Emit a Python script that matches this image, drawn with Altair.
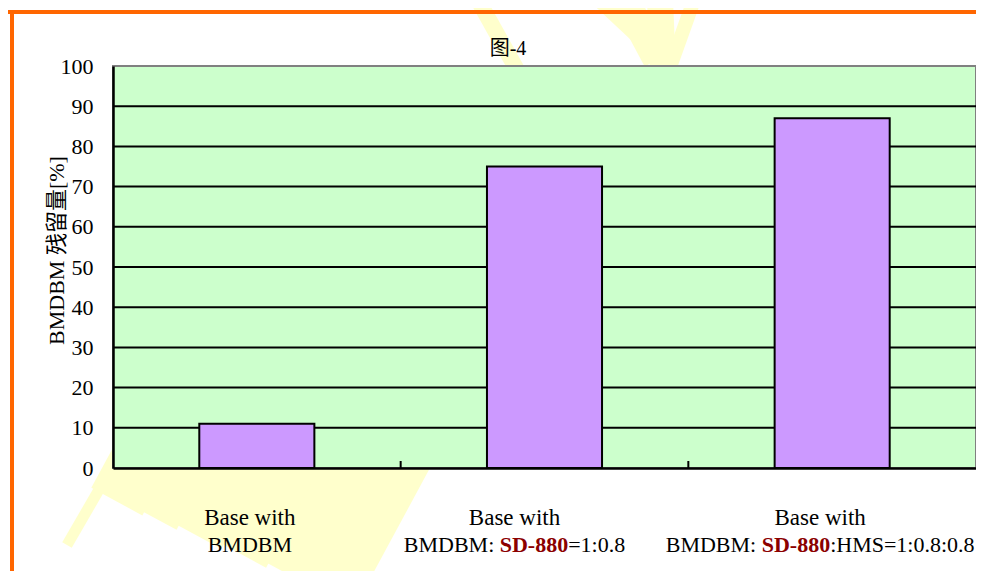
import altair as alt
import pandas as pd

# ---------------- data ----------------
categories = [
    "Base with BMDBM",
    "Base with BMDBM: SD-880=1:0.8",
    "Base with BMDBM: SD-880:HMS=1:0.8:0.8",
]
values = [11, 75, 87]
y_ticks = [0, 10, 20, 30, 40, 50, 60, 70, 80, 90, 100]
grid_values = [10, 20, 30, 40, 50, 60, 70, 80, 90]
chart_title = "图-4"
y_title = "BMDBM 残留量[%]"
label_line1 = ["Base with", "Base with", "Base with"]
label_line2 = [
    [("BMDBM", False)],
    [("BMDBM: ", False), ("SD-880", True), ("=1:0.8", False)],
    [("BMDBM: ", False), ("SD-880", True), (":HMS=1:0.8:0.8", False)],
]

# ---------------- layout / style ----------------
W, H = 863, 402
PAD = {"left": 105, "top": 58, "right": 0, "bottom": 103}
SERIF = "'Liberation Serif', 'Times New Roman', 'Noto Sans CJK SC', serif"
LABEL_SIZE = 22
LINE1_SIZE = 23
label_shift = [-7, -30, -12]   # horizontal shift of each category label block
GREEN = "#CCFFCC"
PURPLE = "#CC99FF"
ORANGE = "#FF6600"
YELLOW = "#FFFFCC"
DARKRED = "#8B0000"
P_INNER, P_OUTER = 0.6, 0.3

df = pd.DataFrame({"cat": categories, "val": values})
one = pd.DataFrame({"k": [0]})

# approximate text widths (Times / Liberation Serif metrics, per 1000 em)
REG = {" ": 250, "B": 667, "M": 889, "D": 722, ":": 278, "=": 564, ".": 250,
       "H": 722, "S": 556, "-": 333, "a": 444, "s": 389, "e": 444, "w": 722,
       "i": 278, "t": 278, "h": 500}
BLD = {"S": 556, "D": 722, "-": 333, " ": 250}


def text_width(s, bold):
    tab = BLD if bold else REG
    return sum(tab.get(c, 500) for c in s) * LABEL_SIZE / 1000.0


step = W / 3.0
band_centers = [step * (i + 0.5) for i in range(3)]

layers = []
ox, oy = 113, 66  # page position of plot origin


# ---- decorations (pixel space) ----
def deco(x1, y1, x2, y2, w, color=YELLOW):
    return alt.Chart(one).mark_rule(color=color, strokeWidth=w, strokeCap="butt").encode(
        x=alt.value(x1 - ox), x2=alt.value(x2 - ox), y=alt.value(y1 - oy), y2=alt.value(y2 - oy)
    )


# watermark strokes above the plot
for seg in [(478, 0, 517, 70, 16),
            (600, 0, 648, 45, 16), (625, 0, 657, 60, 28),
            (660, 0, 663, 70, 26), (694, 0, 669, 70, 14)]:
    layers.append(deco(*seg))
# watermark left stroke below the plot
layers.append(deco(67, 545, 115, 462, 11))
# watermark ribbon below the plot: strips parallel to its right edge
for xc in [397, 342, 287, 232, 177, 135]:
    y_end = (500 + 0.4225 * (xc - 113) + 0.2284 * 468) / 1.2284
    x_top = xc + (468 - 440) * 60 / 111
    x_end = xc - (y_end - 468) * 60 / 111
    layers.append(deco(x_top, 440, x_end, y_end, 58))

# orange frame lines
layers.append(deco(5, 12, 990, 12, 4, ORANGE))
layers.append(deco(12, 10, 12, 600, 4, ORANGE))

# plot background with gray frame
layers.append(
    alt.Chart(one).mark_rect(fill=GREEN, stroke="#808080", strokeWidth=2).encode(
        x=alt.value(0), x2=alt.value(W), y=alt.value(0), y2=alt.value(H)
    )
)

y_scale = alt.Scale(domain=[0, 100], nice=False)
y_axis = alt.Axis(
    values=y_ticks, grid=False, ticks=False, labelPadding=20,
    labelFont=SERIF, labelFontSize=LABEL_SIZE, labelColor="black",
    domainColor="black", domainWidth=2.5, zindex=1,
    title=y_title, titleFont=SERIF, titleFontSize=22, titleFontWeight="normal",
    titleColor="black", titleX=-57, titleY=184, titleBaseline="middle",
    titleAlign="center", titleAngle=270,
)
x_axis = alt.Axis(labels=False, ticks=False, title=None, grid=False,
                  domainColor="black", domainWidth=2.5, zindex=1)
x_scale = alt.Scale(paddingInner=P_INNER, paddingOuter=P_OUTER)

# gridlines
layers.append(
    alt.Chart(pd.DataFrame({"g": grid_values})).mark_rule(color="black", strokeWidth=2).encode(
        y=alt.Y("g:Q", scale=y_scale, axis=y_axis)
    )
)

# bars
bars = alt.Chart(df).mark_bar(fill=PURPLE, stroke="black", strokeWidth=2).encode(
    x=alt.X("cat:N", sort=categories, scale=x_scale, axis=x_axis),
    y=alt.Y("val:Q", scale=y_scale, axis=y_axis),
)
layers.append(bars)

# small inner ticks on category boundaries (end of band + half the inner gap)
layers.append(
    alt.Chart(df.iloc[:2]).mark_rule(color="black", strokeWidth=2, xOffset=P_OUTER * step).encode(
        x=alt.X("cat:N", sort=categories, bandPosition=1),
        y=alt.value(H - 7), y2=alt.value(H),
    )
)

# category labels (two lines, mixed formatting)
for i, cat in enumerate(categories):
    cx = band_centers[i] + label_shift[i]
    layers.append(
        alt.Chart(pd.DataFrame({"cat": [cat], "t": [label_line1[i]]})).mark_text(
            align="center", baseline="alphabetic", font=SERIF,
            fontSize=LINE1_SIZE, color="black", dx=label_shift[i],
        ).encode(x=alt.X("cat:N", sort=categories), y=alt.value(459), text="t:N")
    )
    segs = label_line2[i]
    total = sum(text_width(s, b) for s, b in segs)
    start = cx - total / 2.0
    for s, b in segs:
        layers.append(
            alt.Chart(pd.DataFrame({"cat": [cat], "t": [s]})).mark_text(
                align="left", baseline="alphabetic", font=SERIF,
                fontSize=LABEL_SIZE, fontWeight="bold" if b else "normal",
                color=DARKRED if b else "black", dx=start - band_centers[i],
            ).encode(x=alt.X("cat:N", sort=categories), y=alt.value(486), text="t:N")
        )
        start += text_width(s, b)

# chart title
layers.append(
    alt.Chart(pd.DataFrame({"t": [chart_title]})).mark_text(
        align="center", baseline="middle", font=SERIF, fontSize=20, color="black"
    ).encode(x=alt.value(508 - ox), y=alt.value(49 - oy), text="t:N")
)

chart = alt.layer(*layers).properties(
    width=W, height=H,
    autosize=alt.AutoSizeParams(type="none"),
    padding=PAD,
    background="white",
).configure_view(stroke=None, fill=None)

chart.save("out.html", embed_options={"renderer": "svg", "actions": False})
